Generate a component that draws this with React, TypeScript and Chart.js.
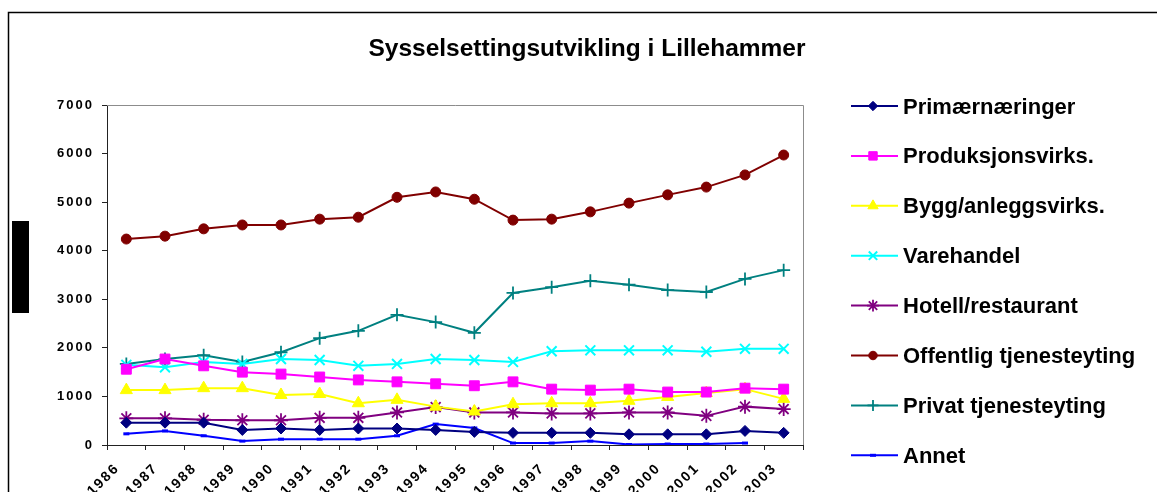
import React, { useEffect, useRef } from 'react';
import { Chart, registerables } from 'chart.js';

Chart.register(...registerables);

const TITLE = 'Sysselsettingsutvikling i Lillehammer';

const years = ['1986', '1987', '1988', '1989', '1990', '1991', '1992', '1993', '1994', '1995', '1996', '1997', '1998', '1999', '2000', '2001', '2002', '2003'];

const yTicks = [0, 1000, 2000, 3000, 4000, 5000, 6000, 7000];

const primaer = [460, 460, 460, 310, 340, 310, 340, 340, 310, 270, 250, 250, 250, 220, 220, 220, 290, 250];
const produksjon = [1560, 1770, 1630, 1500, 1460, 1400, 1340, 1300, 1260, 1220, 1300, 1150, 1130, 1150, 1090, 1090, 1170, 1150];
const bygg = [1130, 1130, 1170, 1170, 1030, 1050, 860, 930, 790, 690, 840, 860, 860, 910, 990, 1070, 1150, 950];
const varehandel = [1650, 1600, 1710, 1670, 1770, 1750, 1630, 1670, 1770, 1750, 1710, 1930, 1950, 1950, 1950, 1920, 1980, 1980];
const hotell = [550, 550, 520, 510, 510, 560, 560, 670, 780, 670, 670, 650, 650, 670, 670, 600, 790, 740];
const offentlig = [4240, 4300, 4450, 4530, 4530, 4650, 4690, 5100, 5210, 5060, 4630, 4650, 4800, 4980, 5150, 5310, 5560, 5970];
const privat = [1670, 1770, 1850, 1710, 1910, 2200, 2350, 2680, 2530, 2310, 3130, 3250, 3380, 3300, 3190, 3150, 3420, 3600];
const annet: (number | null)[] = [230, 290, 190, 80, 120, 120, 120, 190, 430, 350, 40, 40, 80, 10, 20, 20, 40, null];

const seriesNames = ['Primærnæringer', 'Produksjonsvirks.', 'Bygg/anleggsvirks.', 'Varehandel', 'Hotell/restaurant', 'Offentlig tjenesteyting', 'Privat tjenesteyting', 'Annet'];
const seriesData = [primaer, produksjon, bygg, varehandel, hotell, offentlig, privat, annet];
const seriesColors = ['#000080', '#FF00FF', '#FFFF00', '#00FFFF', '#800080', '#800000', '#008080', '#0000FF'];
const seriesStyles = ['rectRot', 'rect', 'triangle', 'crossRot', 'star', 'circle', 'cross', 'line'];
const seriesRadius = [5.5, 7, 7, 7, 7, 5, 6.5, 3];
const seriesPointBorder = [1, 1, 1, 2, 1.8, 1, 1.8, 3];

const FONT = '"Liberation Sans", Arial, Helvetica, sans-serif';

function drawMarker(ctx: CanvasRenderingContext2D, style: string, x: number, y: number, r: number, color: string, bw: number) {
  ctx.save();
  ctx.fillStyle = color;
  ctx.strokeStyle = color;
  ctx.lineWidth = bw;
  ctx.beginPath();
  const s = Math.SQRT1_2 * r;
  switch (style) {
    case 'rectRot':
      ctx.moveTo(x - r, y); ctx.lineTo(x, y - r); ctx.lineTo(x + r, y); ctx.lineTo(x, y + r); ctx.closePath();
      ctx.fill(); ctx.stroke();
      break;
    case 'rect':
      ctx.rect(x - s, y - s, 2 * s, 2 * s); ctx.fill(); ctx.stroke();
      break;
    case 'triangle': {
      const w = r * Math.sin(Math.PI / 3);
      ctx.moveTo(x, y - r); ctx.lineTo(x + w, y + r / 2); ctx.lineTo(x - w, y + r / 2); ctx.closePath();
      ctx.fill(); ctx.stroke();
      break;
    }
    case 'circle':
      ctx.arc(x, y, r, 0, Math.PI * 2); ctx.fill(); ctx.stroke();
      break;
    case 'cross':
      ctx.moveTo(x - r, y); ctx.lineTo(x + r, y); ctx.moveTo(x, y - r); ctx.lineTo(x, y + r); ctx.stroke();
      break;
    case 'crossRot':
      ctx.moveTo(x - s, y - s); ctx.lineTo(x + s, y + s); ctx.moveTo(x + s, y - s); ctx.lineTo(x - s, y + s); ctx.stroke();
      break;
    case 'star':
      ctx.moveTo(x - r, y); ctx.lineTo(x + r, y); ctx.moveTo(x, y - r); ctx.lineTo(x, y + r);
      ctx.moveTo(x - s, y - s); ctx.lineTo(x + s, y + s); ctx.moveTo(x + s, y - s); ctx.lineTo(x - s, y + s); ctx.stroke();
      break;
    case 'line':
      ctx.moveTo(x - r, y); ctx.lineTo(x + r, y); ctx.stroke();
      break;
  }
  ctx.restore();
}

const decorPlugin = {
  id: 'decor',
  beforeDraw(chart: any) {
    (chart.ctx as any).letterSpacing = '2px';
  },
  afterDraw(chart: any) {
    const ctx: CanvasRenderingContext2D = chart.ctx;
    ctx.save();
    (ctx as any).letterSpacing = '0px';
    const a = chart.chartArea;
    // plot area border (top, right)
    ctx.strokeStyle = '#8c8c8c';
    ctx.lineWidth = 1;
    ctx.beginPath();
    ctx.moveTo(a.left, Math.round(a.top) + 0.5);
    ctx.lineTo(Math.round(a.right) + 0.5, Math.round(a.top) + 0.5);
    ctx.lineTo(Math.round(a.right) + 0.5, a.bottom);
    ctx.stroke();
    // outer frame
    ctx.strokeStyle = '#000';
    ctx.lineWidth = 1.5;
    ctx.beginPath();
    ctx.moveTo(8.5, 492);
    ctx.lineTo(8.5, 12.5);
    ctx.lineTo(1157, 12.5);
    ctx.stroke();
    // black box at left
    ctx.fillStyle = '#000';
    ctx.fillRect(12, 221, 17, 92);
    // title
    ctx.fillStyle = '#000';
    ctx.font = `bold 24.5px ${FONT}`;
    ctx.textAlign = 'center';
    ctx.textBaseline = 'alphabetic';
    ctx.fillText(TITLE, 587, 56);
    // legend
    ctx.font = `bold 22px ${FONT}`;
    ctx.textAlign = 'left';
    for (let i = 0; i < seriesNames.length; i++) {
      const y = 106 + 49.9 * i;
      ctx.strokeStyle = seriesColors[i];
      ctx.lineWidth = 2;
      ctx.beginPath();
      ctx.moveTo(851, y);
      ctx.lineTo(898, y);
      ctx.stroke();
      drawMarker(ctx, seriesStyles[i], 873, y, i === 7 ? 3 : seriesRadius[i] * 0.85, seriesColors[i], seriesPointBorder[i]);
      ctx.fillStyle = '#000';
      ctx.fillText(seriesNames[i], 903, y + 7.5);
    }
    ctx.restore();
  },
};

export default function App() {
  const ref = useRef<HTMLCanvasElement | null>(null);

  useEffect(() => {
    if (!ref.current) return;
    const chart = new Chart(ref.current, {
      type: 'line',
      data: {
        labels: years,
        datasets: seriesNames.map((name, i) => ({
          label: name,
          data: seriesData[i] as any,
          borderColor: seriesColors[i],
          backgroundColor: seriesColors[i],
          pointBackgroundColor: seriesColors[i],
          pointBorderColor: seriesColors[i],
          pointStyle: seriesStyles[i] as any,
          pointRadius: seriesRadius[i],
          pointBorderWidth: seriesPointBorder[i],
          borderWidth: 2,
          tension: 0,
          fill: false,
          spanGaps: false,
        })),
      },
      options: {
        responsive: false,
        animation: false,
        events: [],
        layout: { padding: { left: 0, right: 354, top: 105, bottom: 0 } },
        plugins: {
          legend: { display: false },
          title: { display: false },
          tooltip: { enabled: false },
        },
        scales: {
          x: {
            type: 'category',
            offset: true,
            grid: { display: true, drawOnChartArea: false, offset: true, tickLength: 5, color: '#222', lineWidth: 1 },
            border: { display: true, color: '#222', width: 1 },
            ticks: {
              minRotation: 45,
              maxRotation: 45,
              autoSkip: false,
              padding: 10,
              labelOffset: -9,
              color: '#000',
              font: { family: FONT, size: 14, weight: 'bold' },
            },
            afterFit: (s: any) => { s.height = 47; },
          },
          y: {
            min: 0,
            max: 7000,
            afterBuildTicks: (s: any) => { s.ticks = yTicks.map((v) => ({ value: v })); },
            grid: { display: true, drawOnChartArea: false, tickLength: 5, color: '#222', lineWidth: 1 },
            border: { display: true, color: '#222', width: 1 },
            ticks: {
              padding: 8,
              color: '#000',
              font: { family: FONT, size: 13, weight: 'bold' },
              callback: (v: any) => String(v),
            },
            afterFit: (s: any) => { s.width = 107; },
          },
        },
      },
      plugins: [decorPlugin],
    });
    return () => chart.destroy();
  }, []);

  return (
    <div style={{ position: 'absolute', left: 0, top: 0, width: 1157, height: 492, overflow: 'hidden', background: '#fff' }}>
      <canvas ref={ref} width={1157} height={492} style={{ display: 'block' }} />
    </div>
  );
}
